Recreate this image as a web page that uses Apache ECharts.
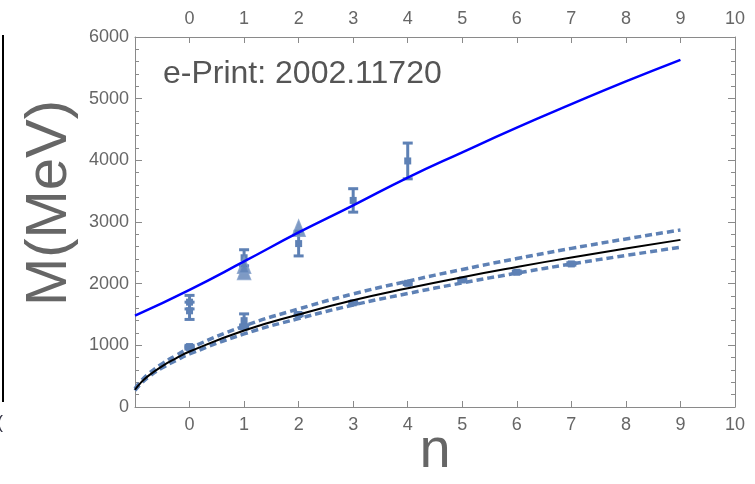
<!DOCTYPE html>
<html>
<head>
<meta charset="utf-8">
<script src="https://cdn.jsdelivr.net/npm/echarts@6/dist/echarts.min.js"></script>
<style>
  html, body { margin: 0; padding: 0; background: #fff; }
  #chart { width: 755px; height: 484px; }
</style>
</head>
<body>
<div id="chart"></div>
<script>
// n values and curves
var blueLine = [[-1, 1480], [0, 1900], [1, 2360], [2, 2830], [3, 3270], [4, 3720],
                [5, 4130], [6, 4530], [7, 4910], [8, 5280], [9, 5630]];
var blackLine = [[-1, 280], [-0.9, 388], [-0.75, 509], [-0.5, 664], [-0.25, 789], [0, 900],
                 [1, 1240], [2, 1500], [3, 1730], [4, 1925], [5, 2105], [6, 2270],
                 [7, 2425], [8, 2570], [9, 2710]];
var upperBand = [[-1, 297], [-0.9, 411], [-0.75, 540], [-0.5, 704], [-0.25, 836], [0, 954],
                 [1, 1314], [2, 1590], [3, 1834], [4, 2040], [5, 2231], [6, 2407],
                 [7, 2572], [8, 2725], [9, 2871]];
var lowerBand = [[-1, 268], [-0.9, 371], [-0.75, 487], [-0.5, 635], [-0.25, 754], [0, 860],
                 [1, 1185], [2, 1434], [3, 1654], [4, 1840], [5, 2012], [6, 2171],
                 [7, 2319], [8, 2458], [9, 2590]];
// [n, M, error]
var squarePoints = [[0, 1700, 110], [0, 1560, 140], [0, 980, 20], [0, 960, 20],
                    [1, 1400, 110], [1, 1300, 30], [1, 2420, 130],
                    [2, 2650, 200], [2, 1500, 20], [3, 3350, 190], [3, 1690, 20],
                    [4, 3990, 290], [4, 2006, 20], [5, 2060, 20], [6, 2185, 20], [7, 2320, 20]];
var trianglePoints = [[1, 2200], [1, 2300], [2, 2900]];
var xTicks = [0, 1, 2, 3, 4, 5, 6, 7, 8, 9, 10];

var ptColor = '#5E81B5';
var frameColor = '#8a8a8a';
var labelColor = '#666';

var chart = echarts.init(document.getElementById('chart'));

function xAxisCfg(pos) {
    return {
        type: 'value', position: pos, min: -1, max: 10, interval: 1,
        axisLine: { show: true, onZero: false, lineStyle: { color: frameColor, width: 1 } },
        axisTick: { show: true, inside: true, length: 6, lineStyle: { color: frameColor } },
        axisLabel: {
            show: true, color: labelColor, fontSize: 18, fontFamily: 'Liberation Sans',
            margin: 9,
            formatter: function (v) { return xTicks.indexOf(v) >= 0 ? String(v) : ''; }
        },
        splitLine: { show: false }
    };
}

function yAxisCfg(pos) {
    return {
        type: 'value', position: pos, min: 0, max: 6000, interval: 1000,
        axisLine: { show: true, onZero: false, lineStyle: { color: frameColor, width: 1 } },
        axisTick: { show: true, inside: true, length: 7, lineStyle: { color: frameColor } },
        minorTick: { show: true, splitNumber: 5, length: 4, lineStyle: { color: frameColor } },
        axisLabel: {
            show: pos === 'left', color: labelColor, fontSize: 18,
            fontFamily: 'Liberation Sans', margin: 6,
            formatter: function (v) { return String(v); }
        },
        splitLine: { show: false }
    };
}

function renderErr(params, api) {
    var x = api.value(0), y = api.value(1), e = api.value(2);
    var top = api.coord([x, y + e]), bot = api.coord([x, y - e]), mid = api.coord([x, y]);
    var hw = 5;
    var st = { stroke: ptColor, lineWidth: 3 };
    return {
        type: 'group',
        children: [
            { type: 'line', shape: { x1: top[0], y1: top[1], x2: bot[0], y2: bot[1] }, style: st },
            { type: 'line', shape: { x1: top[0] - hw, y1: top[1], x2: top[0] + hw, y2: top[1] }, style: st },
            { type: 'line', shape: { x1: bot[0] - hw, y1: bot[1], x2: bot[0] + hw, y2: bot[1] }, style: st },
            { type: 'rect', shape: { x: mid[0] - 3.5, y: mid[1] - 3.5, width: 7, height: 7 },
              style: { fill: ptColor } }
        ]
    };
}

var option = {
    backgroundColor: '#fff',
    animation: false,
    grid: { left: 135, right: 20, top: 37, bottom: 77 },
    xAxis: [xAxisCfg('bottom'), xAxisCfg('top')],
    yAxis: [yAxisCfg('left'), yAxisCfg('right')],
    graphic: [
        { type: 'text', x: 163, y: 74,
          style: { text: 'e-Print: 2002.11720', fill: '#555', fontSize: 32, fontFamily: 'Liberation Sans',
                   verticalAlign: 'middle' } },
        { type: 'text', x: 50, y: 203, rotation: Math.PI / 2,
          style: { text: 'M(MeV)', fill: '#666', fontSize: 58, fontFamily: 'Liberation Sans',
                   align: 'center', verticalAlign: 'middle' } },
        { type: 'text', x: 435, y: 452,
          style: { text: 'n', fill: '#666', fontSize: 56, fontFamily: 'Liberation Sans',
                   align: 'center', verticalAlign: 'middle' } },
        { type: 'line', shape: { x1: 3, y1: 35, x2: 3, y2: 402 },
          style: { stroke: '#000', lineWidth: 2 } },
        { type: 'text', left: -3, top: 414,
          style: { text: '(', fill: '#334', fontSize: 18, fontFamily: 'Liberation Sans' } }
    ],
    series: [
        { type: 'line', data: upperBand, smooth: true, symbol: 'none', z: 2,
          lineStyle: { color: ptColor, width: 3.5, type: [7, 4] } },
        { type: 'line', data: lowerBand, smooth: true, symbol: 'none', z: 2,
          lineStyle: { color: ptColor, width: 3.5, type: [7, 4] } },
        { type: 'custom', data: squarePoints, renderItem: renderErr, z: 3 },
        { type: 'scatter', data: trianglePoints, symbol: 'triangle', symbolSize: [13, 16], z: 3,
          itemStyle: { color: ptColor, borderColor: '#7f9cc8', borderWidth: 1.5 } },
        { type: 'line', data: blackLine, smooth: true, symbol: 'none', z: 4,
          lineStyle: { color: '#000', width: 2 } },
        { type: 'line', data: blueLine, smooth: true, symbol: 'none', z: 4,
          lineStyle: { color: '#0000ff', width: 2.5 } }
    ]
};

chart.setOption(option);
</script>
</body>
</html>
